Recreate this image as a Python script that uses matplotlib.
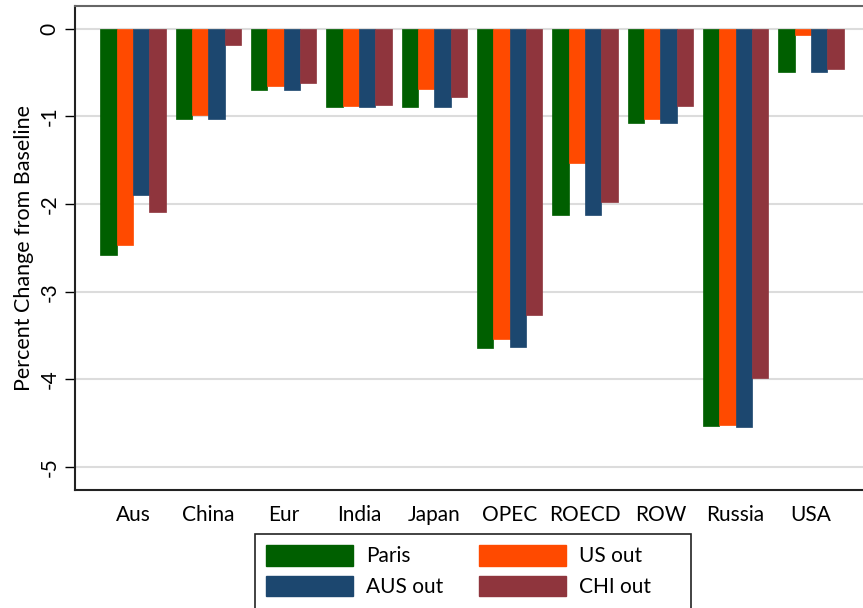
import numpy as np
from matplotlib import pyplot as plt
from matplotlib.patches import Patch, Rectangle

plt.rcParams['font.family'] = ['Lato', 'DejaVu Sans']

regions = ['Aus', 'China', 'Eur', 'India', 'Japan', 'OPEC', 'ROECD', 'ROW', 'Russia', 'USA']
paris   = [-2.58, -1.03, -0.70, -0.89, -0.90, -3.64, -2.12, -1.08, -4.53, -0.49]
us_out  = [-2.47, -0.99, -0.65, -0.88, -0.69, -3.54, -1.53, -1.03, -4.52, -0.07]
aus_out = [-1.90, -1.03, -0.70, -0.89, -0.89, -3.63, -2.12, -1.08, -4.54, -0.50]
chi_out = [-2.09, -0.19, -0.62, -0.87, -0.78, -3.27, -1.98, -0.88, -3.98, -0.46]

series = [('Paris', paris, '#005f00'),
          ('US out', us_out, '#ff4a00'),
          ('AUS out', aus_out, '#1c476f'),
          ('CHI out', chi_out, '#8f353d')]

fig = plt.figure(figsize=(8.63, 6.08), dpi=100)
ax = fig.add_axes([0.0869, 0.194, 0.9131, 0.7966])

x = np.arange(len(regions))
w = 0.216
for i, (name, vals, col) in enumerate(series):
    ax.bar(x + (i - 1.5) * w, vals, width=w, color=col, edgecolor=col,
           linewidth=0.5, label=name, zorder=3)

ax.set_xlim(-0.77, 9.69)
ax.set_ylim(-5.26, 0.26)
ax.set_yticks([0, -1, -2, -3, -4, -5])
ax.set_yticklabels(['0', '-1', '-2', '-3', '-4', '-5'], rotation=90, va='center')
ax.set_xticks(x)
ax.set_xticklabels(regions)
ax.tick_params(axis='x', length=0, labelsize=15, pad=11)
ax.tick_params(axis='y', length=7, width=1, labelsize=15, pad=4)
ax.grid(axis='y', color='#dcdcdc', linewidth=1.5, zorder=0)
ax.set_ylabel('Percent Change from Baseline', fontsize=15.5, labelpad=4)

for s in ['left', 'bottom']:
    ax.spines[s].set_color('#222222')
    ax.spines[s].set_linewidth(1.5)
ax.spines['top'].set_color('#666666')
ax.spines['top'].set_linewidth(1.5)
ax.spines['right'].set_visible(False)

handles = [Patch(facecolor=c, edgecolor=c, label=n) for n, _, c in series]
order = [0, 2, 1, 3]
leg = fig.legend([handles[i] for i in order], [series[i][0] for i in order],
                 ncol=2, loc='upper left', bbox_to_anchor=(0.2955, 0.1217),
                 borderaxespad=0, fontsize=15, handlelength=4.2, handleheight=1.15,
                 columnspacing=1.7, handletextpad=0.6, labelspacing=0.45,
                 frameon=False, borderpad=0.52)

# legend box runs off the bottom edge like the original
fig.patches.append(Rectangle((255 / 863, -0.02), 436 / 863, 0.02 + 74 / 608,
                             transform=fig.transFigure, fill=False,
                             edgecolor='#222222', linewidth=1.2))

plt.savefig('out.png', dpi=100)
